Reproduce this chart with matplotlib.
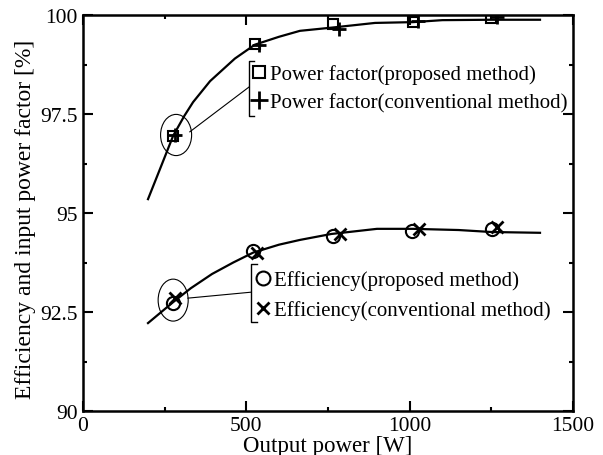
import numpy as np
import matplotlib
matplotlib.use('Agg')
import matplotlib.pyplot as plt
from matplotlib.patches import Ellipse
from matplotlib.lines import Line2D
from matplotlib.ticker import MultipleLocator

plt.rcParams['font.family'] = ['Liberation Serif', 'DejaVu Serif']

# measured points
pf_prop_x = [275, 526, 765, 1010, 1249]
pf_prop_y = [96.94, 99.27, 99.77, 99.82, 99.92]
pf_conv_x = [282, 539, 784, 1026, 1267]
pf_conv_y = [96.97, 99.24, 99.65, 99.85, 99.95]
eff_prop_x = [276, 521, 766, 1007, 1252]
eff_prop_y = [92.73, 94.04, 94.42, 94.55, 94.60]
eff_conv_x = [282, 532, 787, 1028, 1267]
eff_conv_y = [92.86, 93.99, 94.47, 94.60, 94.65]

# fitted curves
pf_curve_x = [199, 240, 276, 310, 337, 389, 465, 526, 600, 664, 760, 894, 1010, 1100, 1250, 1399]
pf_curve_y = [95.35, 96.2, 96.95, 97.45, 97.8, 98.33, 98.9, 99.25, 99.45, 99.6, 99.68, 99.8, 99.82, 99.87, 99.88, 99.88]
eff_curve_x = [199, 276, 330, 395, 460, 521, 600, 664, 760, 900, 1010, 1150, 1250, 1399]
eff_curve_y = [92.22, 92.75, 93.1, 93.46, 93.75, 94.0, 94.2, 94.32, 94.47, 94.6, 94.6, 94.57, 94.52, 94.5]

fig = plt.figure(figsize=(6.03, 4.56), dpi=100)
ax = fig.add_axes([83/603, 1-412/456, 490/603, 396/456])

ax.plot(pf_curve_x, pf_curve_y, color='black', lw=1.6)
ax.plot(eff_curve_x, eff_curve_y, color='black', lw=1.6)

ax.plot(pf_prop_x, pf_prop_y, ls='none', marker='s', ms=6.5, mfc='none', mec='black', mew=1.5)
ax.plot(pf_conv_x, pf_conv_y, ls='none', marker='+', ms=10, mec='black', mew=2)
ax.plot(eff_prop_x, eff_prop_y, ls='none', marker='o', ms=9.5, mfc='none', mec='black', mew=1.5)
ax.plot(eff_conv_x, eff_conv_y, ls='none', marker='x', ms=8, mec='black', mew=2)

# circles around the first measured points
ax.add_patch(Ellipse((285, 96.97), 95, 1.04, fill=False, lw=0.8, color='black'))
ax.add_patch(Ellipse((276, 92.8), 92, 1.06, fill=False, lw=0.8, color='black'))

# leader lines and brackets
ax.plot([327, 508], [97.05, 98.18], color='black', lw=0.8)
ax.plot([523, 508, 508, 523], [98.85, 98.85, 97.45, 97.45], color='black', lw=1.0)
ax.plot([321, 514], [92.85, 93.0], color='black', lw=0.8)
ax.plot([532, 514, 514, 532], [93.7, 93.7, 92.25, 92.25], color='black', lw=1.0)

h_pf = [Line2D([], [], ls='none', marker='s', ms=8, mfc='none', mec='black', mew=1.5),
        Line2D([], [], ls='none', marker='+', ms=13, mec='black', mew=2)]
leg1 = ax.legend(h_pf, ['Power factor(proposed method)', 'Power factor(conventional method)'],
                 loc='upper left', bbox_to_anchor=(0.347, 0.876), frameon=False,
                 fontsize=15, borderpad=0, borderaxespad=0, handlelength=0.6,
                 handletextpad=0.2, labelspacing=0.41)
ax.add_artist(leg1)
h_eff = [Line2D([], [], ls='none', marker='o', ms=10, mfc='none', mec='black', mew=1.5),
         Line2D([], [], ls='none', marker='x', ms=8, mec='black', mew=2)]
ax.legend(h_eff, ['Efficiency(proposed method)', 'Efficiency(conventional method)'],
          loc='upper left', bbox_to_anchor=(0.355, 0.356), frameon=False,
          fontsize=15, borderpad=0, borderaxespad=0, handlelength=0.6,
          handletextpad=0.2, labelspacing=0.5)

ax.set_xlim(0, 1500)
ax.set_ylim(90, 100)
ax.xaxis.set_minor_locator(MultipleLocator(250))
ax.yaxis.set_minor_locator(MultipleLocator(1.25))
ax.set_yticks([90, 92.5, 95, 97.5, 100])
ax.set_yticklabels(['90', '92.5', '95', '97.5', '100'])
ax.set_xticks([0, 500, 1000, 1500])
ax.set_xticklabels(['0', '500', '1000', '1500'])
ax.tick_params(which='both', direction='in', top=True, right=True, width=1.5, labelsize=15.5)
ax.tick_params(axis='x', pad=3.5)
ax.tick_params(axis='y', pad=4)
ax.tick_params(which='major', length=7)
ax.tick_params(which='minor', length=3)
for s in ax.spines.values():
    s.set_linewidth(1.8)

ax.set_xlabel('Output power [W]', fontsize=16.5, labelpad=0)
ax.set_ylabel('Efficiency and input power factor [%]', fontsize=17)
ax.yaxis.set_label_coords(-0.095, 0.487)

fig.savefig('out.png', dpi=100)
